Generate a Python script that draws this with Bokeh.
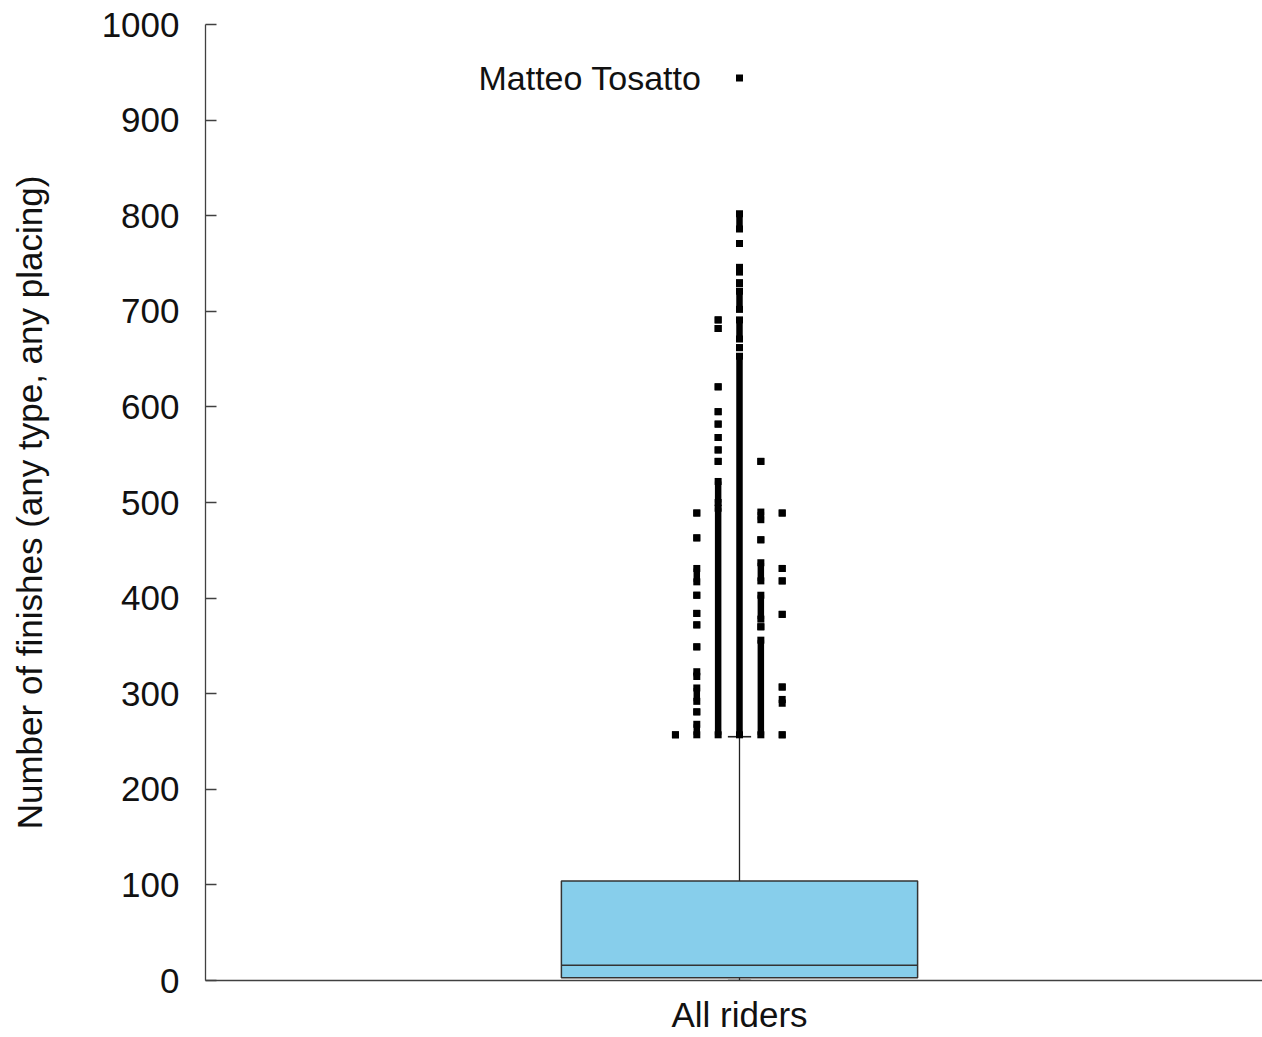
from bokeh.plotting import figure
from bokeh.models import Range1d, FixedTicker
from bokeh.core.properties import value
from bokeh.embed import file_html
from bokeh.resources import INLINE

# Summary of finishes per rider (single group)
category = "All riders"
whisker_low = 0
q1 = 3
median = 16
q3 = 104
whisker_high = 255

# Outliers, grouped into jitter columns (column index relative to centre).
# Each entry is a (lowest, highest) stretch of riders packed densely enough
# that their markers touch; single riders have lowest == highest.
jitter_columns = [-3, -2, -1, 0, 1, 2]
outlier_runs = [
    [(257, 257)],
    [(489, 489), (463, 463), (417, 431), (403, 403), (384, 384), (372, 372),
     (349, 349), (318, 323), (292, 306), (281, 281), (257, 268)],
    [(691, 691), (682, 682), (621, 621), (595, 595), (582, 582), (568, 568),
     (555, 555), (543, 543), (500, 522), (257, 494)],
    [(786, 802), (771, 771), (741, 746), (729, 730), (702, 721), (671, 691),
     (662, 662), (257, 653)],
    [(543, 543), (482, 490), (461, 461), (418, 437), (378, 403), (370, 370),
     (257, 356)],
    [(489, 489), (431, 431), (418, 418), (383, 383), (307, 307), (290, 294),
     (257, 257)],
]

top_rider = "Matteo Tosatto"
top_rider_finishes = 944

y_ticks = list(range(0, 1001, 100))

FONT = "Liberation Sans"
BOX_WIDTH = 0.337
CAP_WIDTH = 0.022
JITTER_STEP = 0.0202

p = figure(
    width=1262, height=1037,
    x_range=Range1d(-0.5052, 0.4948), y_range=Range1d(0, 1000),
    output_backend="svg", toolbar_location=None,
    min_border_left=205, min_border_right=0,
    min_border_top=24, min_border_bottom=57,
)
p.outline_line_color = None
p.grid.visible = False
p.background_fill_color = "white"
p.border_fill_color = "white"

# axes
p.xaxis.ticker = FixedTicker(ticks=[0])
p.xaxis.major_label_overrides = {0: category}
p.yaxis.ticker = FixedTicker(ticks=y_ticks)
p.yaxis.axis_label = "Number of finishes (any type, any placing)"
for ax in (p.xaxis, p.yaxis):
    ax.axis_line_color = "#404040"
    ax.axis_line_width = 1.3
    ax.major_tick_line_color = "#404040"
    ax.major_tick_line_width = 1.3
    ax.minor_tick_line_color = None
    ax.major_label_text_font = FONT
    ax.major_label_text_font_size = "35px"
    ax.major_label_text_color = "#111111"
    ax.axis_label_text_font = FONT
    ax.axis_label_text_font_size = "35px"
    ax.axis_label_text_font_style = "normal"
    ax.axis_label_text_color = "#111111"
p.xaxis.major_tick_in = 0
p.xaxis.major_tick_out = 0
p.xaxis.major_label_standoff = 14
p.yaxis.major_tick_in = 11
p.yaxis.major_tick_out = 0
p.yaxis.major_label_standoff = 26
p.yaxis.axis_label_standoff = 50

# whiskers
p.segment(x0=[0, 0], x1=[0, 0], y0=[q3, whisker_low], y1=[whisker_high, q1],
          line_color="#222222", line_width=1.3)
p.segment(x0=[-CAP_WIDTH / 2] * 2, x1=[CAP_WIDTH / 2] * 2,
          y0=[whisker_high, whisker_low], y1=[whisker_high, whisker_low],
          line_color="#222222", line_width=1.6)

# box and median
p.quad(left=[-BOX_WIDTH / 2], right=[BOX_WIDTH / 2], bottom=[q1], top=[q3],
       fill_color="#87CEEB", line_color="#333333", line_width=1.5)
p.segment(x0=[-BOX_WIDTH / 2], x1=[BOX_WIDTH / 2], y0=[median], y1=[median],
          line_color="#333333", line_width=1.5)

# outliers
xs, lo, hi = [], [], []
for col, runs in zip(jitter_columns, outlier_runs):
    for a, b in runs:
        xs.append(col * JITTER_STEP)
        lo.append(a)
        hi.append(b)
p.segment(x0=xs, x1=xs, y0=lo, y1=hi, line_color="black", line_width=6.5)
p.scatter(x=xs + xs, y=lo + hi, marker="square", size=7,
          fill_color="black", line_color=None)

# most prolific rider
p.scatter(x=[0], y=[top_rider_finishes], marker="square", size=7,
          fill_color="black", line_color=None)
p.text(x=[0], y=[top_rider_finishes], text=[top_rider],
       x_offset=-38, text_align="right", text_baseline="middle",
       text_font=value(FONT), text_font_size="34px", text_color="#111111")

open("out.html", "w").write(file_html(p, INLINE))
